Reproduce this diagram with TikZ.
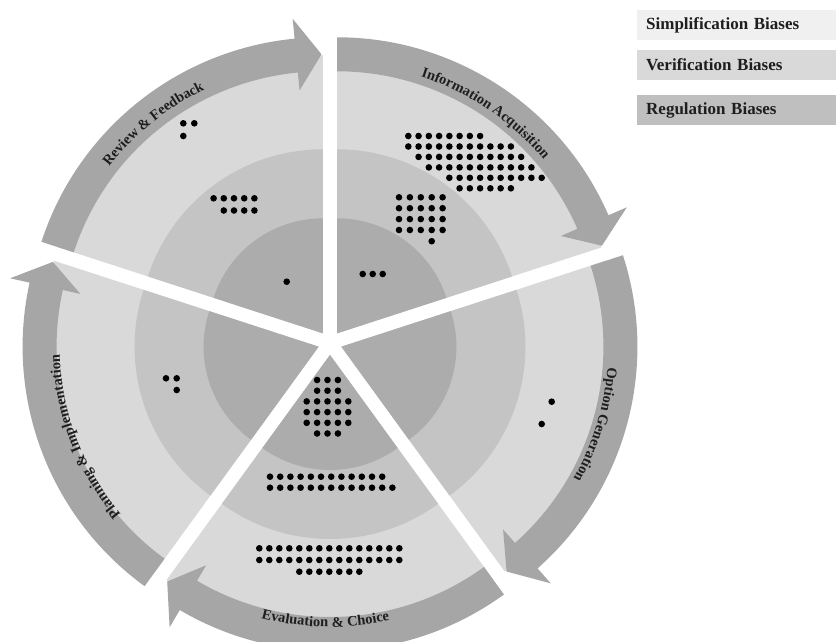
\documentclass[tikz,border=0pt]{standalone}
\usepackage{fontspec}
\setmainfont{Liberation Serif}
\usetikzlibrary{decorations.text}

\definecolor{ringout}{HTML}{D9D9D9}
\definecolor{ringmid}{HTML}{C4C4C4}
\definecolor{ringin}{HTML}{ACACAC}
\definecolor{bandgray}{HTML}{A6A6A6}
\definecolor{legsimp}{HTML}{F0F0F0}
\definecolor{legverif}{HTML}{D9D9D9}
\definecolor{legreg}{HTML}{BFBFBF}
\definecolor{inkdark}{HTML}{1E1E1E}

\newcommand\arclabelfont{\bfseries\fontsize{14.5}{14.5}\selectfont}
\newcommand\legendfont{\bfseries\fontsize{17}{17}\selectfont}

% one exploded 72-degree sector of the cycle; #1 = its clockwise-end angle
\newcommand\cyclesector[1]{%
  \begin{scope}[shift={({#1+36}:12pt)}]
    \fill[ringout] (0,0) -- ({#1}:278pt) arc[start angle=#1, end angle=#1+72, radius=278pt] -- cycle;
    \fill[ringmid] (0,0) -- ({#1}:184pt) arc[start angle=#1, end angle=#1+72, radius=184pt] -- cycle;
    \fill[ringin]  (0,0) -- ({#1}:115pt) arc[start angle=#1, end angle=#1+72, radius=115pt] -- cycle;
    \fill[bandgray] ({#1+72}:296pt) arc[start angle=#1+72, end angle=#1+5.5, radius=296pt]
      -- ({#1+5.5}:316pt) -- ({#1+0.3}:279pt) -- ({#1+5.5}:244pt) -- ({#1+5.5}:262pt)
      arc[start angle=#1+5.5, end angle=#1+72, radius=262pt] -- cycle;
  \end{scope}}

% curved stage name: #1 sector end angle, #2 from angle, #3 to angle, #4 baseline radius, #5 text
\newcommand\cyclelabel[5]{%
  \begin{scope}[shift={({#1+36}:12pt)}]
    \path[decorate, decoration={text along path, text align=center, text color=inkdark,
        text={|\arclabelfont|#5}}]
      ({#2}:#4) arc[start angle=#2, end angle=#3, radius=#4];
  \end{scope}}

% a row of bias dots: x of column 0, column step, first column, last column, y from top
\newcommand\dotrow[5]{%
  \foreach \c in {#3,...,#4} {\fill[biasdot] ({#1+\c*#2},{-#5}) circle[radius=3.3pt];}}

\tikzset{
  biasdot/.style={fill=black},
  legendbox/.style={minimum width=199pt, minimum height=30pt, text width=181pt,
    align=left, inner xsep=9pt, inner ysep=0pt, font=\legendfont, text=inkdark, anchor=west}
}

\begin{document}
\begin{tikzpicture}[x=1pt,y=1pt]
\useasboundingbox (0,0) rectangle (836,-642);
\fill[white] (0,0) rectangle (836,-642);

\begin{scope}[shift={(330,-343)}]
  \cyclesector{18}   % Information Acquisition
  \cyclesector{90}   % Review & Feedback
  \cyclesector{162}  % Planning & Implementation
  \cyclesector{234}  % Evaluation & Choice
  \cyclesector{-54}  % Option Generation

  \cyclelabel{90}{169}{89}{271pt}{Review {\&} Feedback}
  \cyclelabel{18}{97}{15}{270pt}{Information Acquisition}
  \cyclelabel{-54}{23}{-57}{267pt}{Option Generation}
  \cyclelabel{234}{-131}{-51}{272pt}{Evaluation {\&} Choice}
  \cyclelabel{162}{241}{161}{259pt}{Planning {\&} Implementation}
\end{scope}

% Information Acquisition
\dotrow{408.3}{10.26}{0}{7}{136}
\dotrow{408.3}{10.26}{0}{10}{146.5}
\dotrow{408.3}{10.26}{1}{11}{156.9}
\dotrow{408.3}{10.26}{2}{12}{167.4}
\dotrow{408.3}{10.26}{4}{13}{177.8}
\dotrow{408.3}{10.26}{5}{10}{188.3}
\dotrow{399}{10.9}{0}{4}{197.3}
\dotrow{399}{10.9}{0}{4}{208.2}
\dotrow{399}{10.9}{0}{4}{219.1}
\dotrow{399}{10.9}{0}{4}{230.0}
\dotrow{399}{10.9}{3}{3}{241.2}
\dotrow{362.7}{10}{0}{2}{274}

% Review & Feedback
\dotrow{183.3}{11}{0}{1}{123.3}
\dotrow{183.3}{11}{0}{0}{136}
\dotrow{213.6}{10.2}{0}{4}{198.3}
\dotrow{213.6}{10.2}{1}{4}{210.5}
\dotrow{286.7}{10}{0}{0}{281.7}

% Planning & Implementation
\dotrow{166}{10.7}{0}{1}{378.3}
\dotrow{176.7}{10}{0}{0}{390}

% Evaluation & Choice
\dotrow{306.7}{10.4}{1}{3}{380}
\dotrow{306.7}{10.4}{1}{3}{390.7}
\dotrow{306.7}{10.4}{0}{4}{401.4}
\dotrow{306.7}{10.4}{0}{4}{412.1}
\dotrow{306.7}{10.4}{0}{4}{422.8}
\dotrow{306.7}{10.4}{1}{3}{433.5}
\dotrow{270}{10.2}{0}{11}{476.7}
\dotrow{270}{10.2}{0}{12}{487.7}
\dotrow{259.3}{10}{0}{14}{548.3}
\dotrow{259.3}{10}{0}{14}{560}
\dotrow{259.3}{10}{4}{10}{571.7}

% Option Generation
\dotrow{551.7}{10}{0}{0}{401.7}
\dotrow{541.7}{10}{0}{0}{424}

% legend
\node[legendbox, fill=legsimp]  (simp)  at (637,-25)  {Simplification Biases};
\node[legendbox, fill=legverif] (verif) at (637,-65)  {Verification Biases};
\node[legendbox, fill=legreg]   (reg)   at (637,-110) {Regulation Biases};
\end{tikzpicture}
\end{document}
